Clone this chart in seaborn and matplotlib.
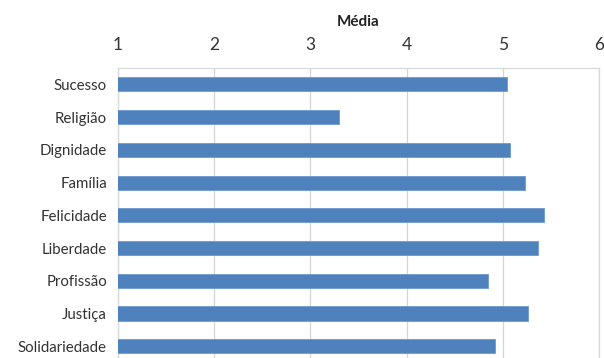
import matplotlib
matplotlib.use("Agg")
import matplotlib.pyplot as plt
import seaborn as sns
import pandas as pd

categories = ["Sucesso", "Religião", "Dignidade", "Família", "Felicidade",
              "Liberdade", "Profissão", "Justiça", "Solidariedade"]
media = [5.04, 3.30, 5.07, 5.23, 5.43, 5.37, 4.85, 5.26, 4.92]
x_ticks = [1, 2, 3, 4, 5, 6]
axis_title = "Média"

df = pd.DataFrame({"categoria": categories, "media": media})

sns.set_style("white")
plt.rcParams["font.family"] = ["Lato", "DejaVu Sans"]

fig = plt.figure(figsize=(6.04, 3.58), dpi=100)
ax = fig.add_axes([118 / 604, -4.6 / 358, (599 - 118) / 604, (362.6 - 68) / 358])

sns.barplot(data=df, x="media", y="categoria", orient="h", color="#4f81bd",
            saturation=1, width=0.43, edgecolor="#6f9bd1", linewidth=0.6,
            ax=ax, zorder=3)

ax.set_xlim(1, 6)
ax.set_xticks(x_ticks)
ax.set_xticklabels([str(t) for t in x_ticks])
ax.xaxis.tick_top()
ax.xaxis.set_label_position("top")
ax.set_xlabel(axis_title, fontsize=11, fontweight="bold", color="#222222", labelpad=8)
ax.set_ylabel("")
ax.set_ylim(8.5, -0.5)

ax.grid(axis="x", color="#d4d4d4", linewidth=0.9, zorder=0)
ax.tick_params(axis="both", length=0, colors="#333333")
ax.tick_params(axis="x", pad=10.5, labelsize=12.5)
ax.tick_params(axis="y", pad=8, labelsize=10.8)
for s in ax.spines.values():
    s.set_color("#d9d9d9")
    s.set_linewidth(0.9)

fig.savefig("out.png", dpi=100)
